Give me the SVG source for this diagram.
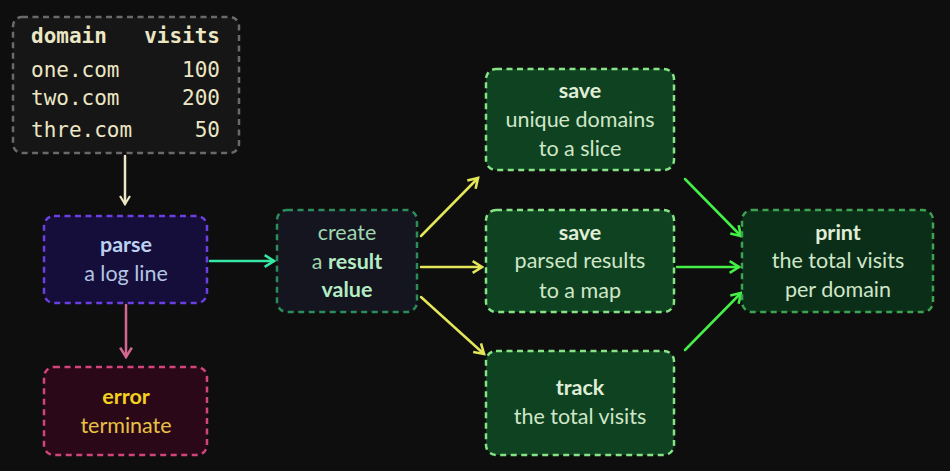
<svg xmlns="http://www.w3.org/2000/svg" width="950" height="471" viewBox="0 0 950 471">
<style>
.box{stroke-width:2.5;stroke-dasharray:6 4.5}
.t{font-family:Lato,"Noto Sans",sans-serif;font-size:21.5px;text-anchor:middle}
.b{font-weight:bold}
.m{font-family:"DejaVu Sans Mono","Liberation Mono",monospace;font-size:21px;fill:#ece6c4}
.c{fill:none;stroke-width:2.5;stroke-linecap:round}
</style>
<defs>
<marker id="aCream" viewBox="0 0 12 12" refX="10" refY="6" markerWidth="12" markerHeight="12" markerUnits="userSpaceOnUse" orient="auto"><path d="M2,1 L10,6 L2,11" fill="none" stroke="#ece6c4" stroke-width="2.2"/></marker>
<marker id="aPink" viewBox="0 0 12 12" refX="10" refY="6" markerWidth="14" markerHeight="14" markerUnits="userSpaceOnUse" orient="auto"><path d="M2,1 L10,6 L2,11" fill="none" stroke="#d4668f" stroke-width="2.2"/></marker>
<marker id="aTeal" viewBox="0 0 12 12" refX="10" refY="6" markerWidth="14" markerHeight="14" markerUnits="userSpaceOnUse" orient="auto"><path d="M2,1 L10,6 L2,11" fill="none" stroke="#36e8a4" stroke-width="2.2"/></marker>
<marker id="aYel" viewBox="0 0 12 12" refX="10" refY="6" markerWidth="14" markerHeight="14" markerUnits="userSpaceOnUse" orient="auto"><path d="M2,1 L10,6 L2,11" fill="none" stroke="#e4e65a" stroke-width="2.2"/></marker>
<marker id="aGrn" viewBox="0 0 12 12" refX="10" refY="6" markerWidth="14" markerHeight="14" markerUnits="userSpaceOnUse" orient="auto"><path d="M2,1 L10,6 L2,11" fill="none" stroke="#44f048" stroke-width="2.2"/></marker>
</defs>
<rect width="950" height="471" fill="#0e0e0e"/>

<g id="connectors">
<line class="c" x1="125" y1="156" x2="125" y2="204" stroke="#ece6c4" marker-end="url(#aCream)"/>
<line class="c" x1="126" y1="305" x2="126" y2="357" stroke="#d4668f" marker-end="url(#aPink)"/>
<line class="c" x1="210" y1="261" x2="274" y2="261" stroke="#36e8a4" marker-end="url(#aTeal)"/>
<line class="c" x1="421" y1="236" x2="478" y2="178" stroke="#e4e65a" marker-end="url(#aYel)"/>
<line class="c" x1="421" y1="267" x2="482" y2="267" stroke="#e4e65a" marker-end="url(#aYel)"/>
<line class="c" x1="421" y1="297" x2="484" y2="354" stroke="#e4e65a" marker-end="url(#aYel)"/>
<line class="c" x1="685" y1="179" x2="741" y2="236" stroke="#44f048" marker-end="url(#aGrn)"/>
<line class="c" x1="677" y1="267" x2="739" y2="267" stroke="#44f048" marker-end="url(#aGrn)"/>
<line class="c" x1="685" y1="350" x2="741" y2="293" stroke="#44f048" marker-end="url(#aGrn)"/>
</g>

<g id="table">
<rect class="box" x="13" y="17" width="226" height="136" rx="9" fill="#161616" stroke="#6a6a6a" stroke-width="2"/>
<text class="m" x="31" y="43" font-weight="bold">domain</text>
<text class="m" x="220" y="43" font-weight="bold" text-anchor="end">visits</text>
<text class="m" x="31" y="77">one.com</text>
<text class="m" x="220" y="77" text-anchor="end">100</text>
<text class="m" x="31" y="105">two.com</text>
<text class="m" x="220" y="105" text-anchor="end">200</text>
<text class="m" x="31" y="137">thre.com</text>
<text class="m" x="220" y="137" text-anchor="end">50</text>
</g>

<g id="parse">
<rect class="box" x="44" y="216" width="163" height="87" rx="10" fill="#150e3a" stroke="#6b3fe0"/>
<text class="t b" x="126" y="252" fill="#bcd2f0">parse</text>
<text class="t" x="126" y="281" fill="#b4c4e4">a log line</text>
</g>

<g id="error">
<rect class="box" x="44" y="367" width="163" height="88" rx="10" fill="#2b0818" stroke="#d2457a"/>
<text class="t b" x="126" y="404" fill="#f2d21e">error</text>
<text class="t" x="126" y="433" fill="#e8c244">terminate</text>
</g>

<g id="create">
<rect class="box" x="277" y="210" width="140" height="102" rx="10" fill="#15151f" stroke="#2b8c5c"/>
<text class="t" x="347" y="240" fill="#9fd6b0">create</text>
<text class="t" x="347" y="269" fill="#b4ecc4"><tspan fill="#9fd6b0">a </tspan><tspan class="b">result</tspan></text>
<text class="t b" x="347" y="297" fill="#b4ecc4">value</text>
</g>

<g id="save1">
<rect class="box" x="486" y="69" width="188" height="101" rx="10" fill="#0e4220" stroke="#86e486"/>
<text class="t b" x="580" y="98" fill="#e0eed8">save</text>
<text class="t" x="580" y="127" fill="#d0e6c8">unique domains</text>
<text class="t" x="580" y="156" fill="#d0e6c8">to a slice</text>
</g>

<g id="save2">
<rect class="box" x="486" y="210" width="188" height="102" rx="10" fill="#0e4220" stroke="#86e486"/>
<text class="t b" x="580" y="240" fill="#e0eed8">save</text>
<text class="t" x="580" y="268" fill="#d0e6c8">parsed results</text>
<text class="t" x="580" y="298" fill="#d0e6c8">to a map</text>
</g>

<g id="track">
<rect class="box" x="486" y="351" width="188" height="104" rx="10" fill="#0e4220" stroke="#86e486"/>
<text class="t b" x="580" y="395" fill="#e0eed8">track</text>
<text class="t" x="580" y="424" fill="#d0e6c8">the total visits</text>
</g>

<g id="print">
<rect class="box" x="742" y="210" width="191" height="102" rx="10" fill="#0b2e18" stroke="#3ca352"/>
<text class="t b" x="838" y="240" fill="#e0eed8">print</text>
<text class="t" x="838" y="268" fill="#d0e6c8">the total visits</text>
<text class="t" x="838" y="297" fill="#d0e6c8">per domain</text>
</g>
</svg>
